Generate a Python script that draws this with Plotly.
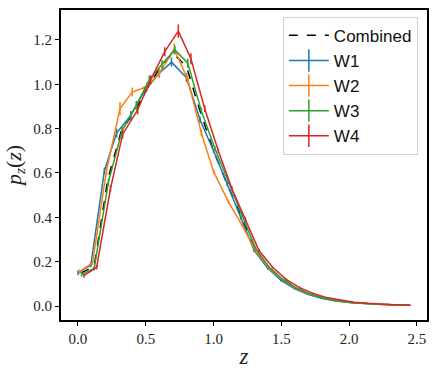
import plotly.graph_objects as go

# per-series bin positions and p_z(z) values
z_comb = [0.02, 0.12, 0.22, 0.32, 0.42, 0.52, 0.61, 0.70, 0.80, 0.90, 1.00, 1.10, 1.20,
          1.30, 1.40, 1.50, 1.60, 1.70, 1.80, 1.90, 2.00, 2.10, 2.20, 2.30, 2.45]
p_comb = [0.148, 0.18, 0.57, 0.79, 0.88, 0.99, 1.08, 1.14, 1.08, 0.88, 0.70, 0.55, 0.41,
          0.26, 0.18, 0.125, 0.085, 0.056, 0.037, 0.025, 0.017, 0.012, 0.008, 0.006, 0.004]

z_w1 = [0.0, 0.095, 0.195, 0.285, 0.39, 0.49, 0.60, 0.69, 0.80, 0.90, 1.00, 1.10, 1.20,
        1.30, 1.40, 1.50, 1.60, 1.70, 1.80, 1.90, 2.00, 2.10, 2.20, 2.30, 2.45]
p_w1 = [0.15, 0.185, 0.61, 0.78, 0.86, 0.97, 1.05, 1.10, 1.03, 0.84, 0.70, 0.55, 0.40,
        0.25, 0.17, 0.115, 0.078, 0.052, 0.034, 0.023, 0.016, 0.011, 0.008, 0.006, 0.004]
e_w1 = [0.01, 0.01, 0.015, 0.02, 0.02, 0.02, 0.02, 0.02, 0.02, 0.015, 0.01, 0.01, 0.01,
        0.008, 0.006, 0.005, 0.004, 0.003, 0.002, 0.002, 0.001, 0.001, 0.001, 0.001, 0.001]

z_w2 = [0.01, 0.108, 0.21, 0.31, 0.40, 0.51, 0.60, 0.71, 0.81, 0.91, 1.00, 1.11, 1.21,
        1.31, 1.41, 1.51, 1.61, 1.71, 1.81, 1.91, 2.01, 2.11, 2.21, 2.31, 2.45]
p_w2 = [0.155, 0.195, 0.61, 0.89, 0.965, 0.99, 1.05, 1.16, 1.02, 0.78, 0.606, 0.47, 0.365,
        0.25, 0.17, 0.118, 0.08, 0.054, 0.036, 0.024, 0.016, 0.011, 0.008, 0.006, 0.004]
e_w2 = [0.01, 0.01, 0.02, 0.03, 0.02, 0.02, 0.02, 0.025, 0.02, 0.015, 0.01, 0.01, 0.01,
        0.008, 0.006, 0.005, 0.004, 0.003, 0.002, 0.002, 0.001, 0.001, 0.001, 0.001, 0.001]

z_w3 = [0.027, 0.12, 0.225, 0.325, 0.43, 0.526, 0.62, 0.715, 0.81, 0.91, 1.01, 1.11, 1.21,
        1.31, 1.41, 1.51, 1.61, 1.71, 1.81, 1.91, 2.01, 2.11, 2.21, 2.31, 2.45]
p_w3 = [0.143, 0.17, 0.56, 0.79, 0.905, 1.02, 1.09, 1.155, 1.095, 0.88, 0.71, 0.56, 0.41,
        0.26, 0.175, 0.12, 0.082, 0.055, 0.036, 0.024, 0.016, 0.011, 0.008, 0.006, 0.004]
e_w3 = [0.01, 0.01, 0.015, 0.02, 0.02, 0.02, 0.02, 0.02, 0.02, 0.015, 0.01, 0.01, 0.01,
        0.008, 0.006, 0.005, 0.004, 0.003, 0.002, 0.002, 0.001, 0.001, 0.001, 0.001, 0.001]

z_w4 = [0.044, 0.138, 0.24, 0.33, 0.44, 0.536, 0.64, 0.74, 0.833, 0.935, 1.035, 1.135, 1.235,
        1.335, 1.435, 1.535, 1.635, 1.735, 1.835, 1.935, 2.035, 2.135, 2.235, 2.335, 2.45]
p_w4 = [0.137, 0.175, 0.53, 0.775, 0.884, 1.02, 1.147, 1.24, 1.115, 0.89, 0.70, 0.53, 0.39,
        0.25, 0.175, 0.12, 0.083, 0.057, 0.038, 0.026, 0.017, 0.012, 0.008, 0.006, 0.004]
e_w4 = [0.01, 0.01, 0.015, 0.02, 0.02, 0.02, 0.02, 0.03, 0.025, 0.015, 0.01, 0.01, 0.01,
        0.008, 0.006, 0.005, 0.004, 0.003, 0.002, 0.002, 0.001, 0.001, 0.001, 0.001, 0.001]

series = [('W1', '#1f77b4', z_w1, p_w1, e_w1),
          ('W2', '#ff7f0e', z_w2, p_w2, e_w2),
          ('W3', '#2ca02c', z_w3, p_w3, e_w3),
          ('W4', '#d62728', z_w4, p_w4, e_w4)]

fig = go.Figure()
fig.add_trace(go.Scatter(x=z_comb, y=p_comb, mode='lines', name='Combined',
                         line=dict(color='black', width=1.5, dash='dash')))
for name, col, z, p, e in series:
    fig.add_trace(go.Scatter(x=z, y=p, mode='lines', showlegend=False, legendgroup=name,
                             line=dict(color=col, width=1.5),
                             error_y=dict(type='data', array=e, color=col, thickness=1.5, width=0)))
    # legend entry with the errorbar cross
    fig.add_trace(go.Scatter(x=[None], y=[None], mode='lines+markers', name=name, legendgroup=name,
                             line=dict(color=col, width=1.5),
                             marker=dict(symbol='line-ns-open', size=16, line=dict(color=col, width=1.5))))

axis_common = dict(showline=True, linecolor='black', linewidth=2, mirror=True,
                   ticks='outside', ticklen=4, tickwidth=1, tickcolor='black',
                   showgrid=False, zeroline=False, automargin=False,
                   tickfont=dict(family='Liberation Serif', size=15, color='#222'))
fig.update_xaxes(range=[-0.125, 2.574], tickvals=[0, 0.5, 1, 1.5, 2, 2.5], tickformat='.1f',
                 title=dict(text='<i>z</i>', font=dict(family='Liberation Serif', size=23, color='#222'),
                            standoff=2), **axis_common)
fig.update_yaxes(range=[-0.063, 1.335], tickvals=[0, 0.2, 0.4, 0.6, 0.8, 1.0, 1.2], tickformat='.1f',
                 title=dict(text='<i>p<sub>z</sub></i>(<i>z</i>)',
                            font=dict(family='Liberation Serif', size=22, color='#222'), standoff=6),
                 **axis_common)
fig.update_layout(width=436, height=374, margin=dict(l=61, r=9, t=10, b=54),
                  paper_bgcolor='white', plot_bgcolor='white',
                  legend=dict(x=0.975, y=0.978, xanchor='right', yanchor='top',
                              bgcolor='white', bordercolor='#d0d0d0', borderwidth=1,
                              font=dict(family='Liberation Sans', size=17, color='#111'),
                              itemwidth=40, tracegroupgap=0))
# drop the default page margin so the figure sits at the window's corner
fig.write_html("out.html", config={'displayModeBar': False},
               post_script="document.body.style.margin='0';")
